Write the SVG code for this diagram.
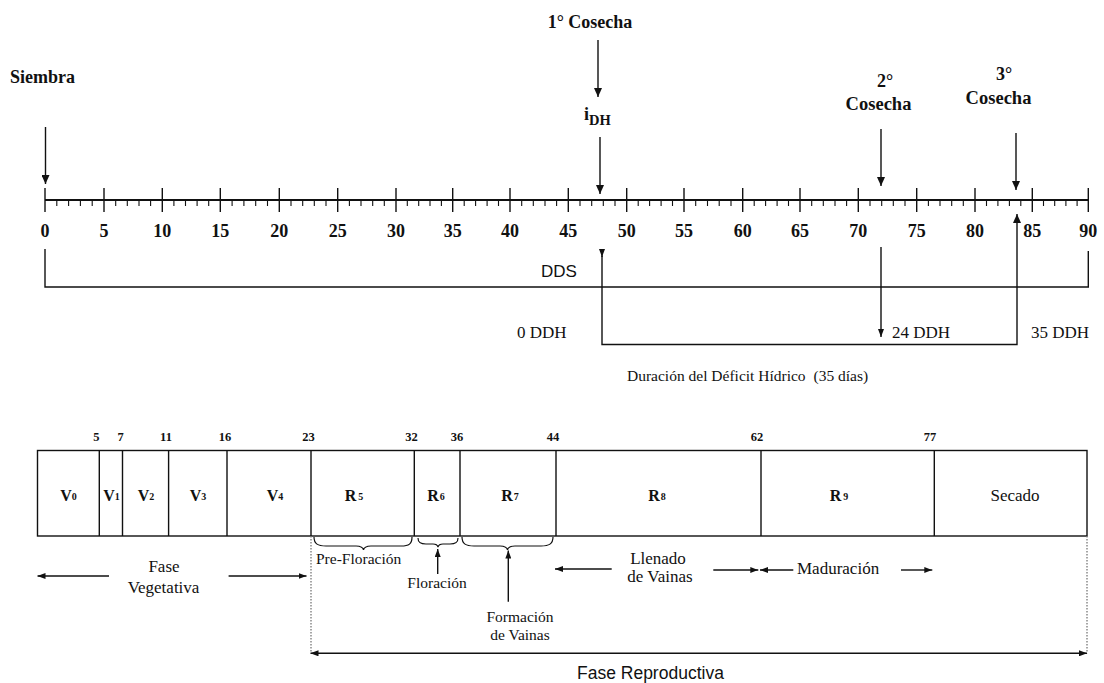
<svg xmlns="http://www.w3.org/2000/svg" width="1104" height="683" viewBox="0 0 1104 683">
<style>
.s{font-family:"Liberation Serif","Times New Roman",serif;fill:#111}
.b{font-weight:bold}
.a{font-family:"Liberation Sans",Arial,sans-serif;fill:#111}
.ln{stroke:#111;stroke-width:1.4;fill:none}
.dot{stroke:#777;stroke-width:1.3;fill:none;stroke-dasharray:1.5,1.5}
.num{font-family:"Liberation Serif","Times New Roman",serif;font-weight:bold;font-size:18px;fill:#111;text-anchor:middle}
.bn{font-family:"Liberation Serif","Times New Roman",serif;font-weight:bold;font-size:12.5px;fill:#111;text-anchor:middle}
.bl{font-family:"Liberation Serif","Times New Roman",serif;font-weight:bold;font-size:16px;fill:#111;text-anchor:middle}
.sm{font-size:10px}
.m{text-anchor:middle}
</style>
<defs>
<marker id="ah" markerUnits="userSpaceOnUse" markerWidth="9" markerHeight="8" viewBox="0 0 9 8" refX="9" refY="4" orient="auto">
<path d="M0,0 L9,4 L0,8 z" fill="#111"/>
</marker>
<marker id="as" markerUnits="userSpaceOnUse" markerWidth="8" markerHeight="6" viewBox="0 0 8 6" refX="8" refY="3" orient="auto-start-reverse">
<path d="M0,0 L8,3 L0,6 z" fill="#111"/>
</marker>
</defs>
<rect width="1104" height="683" fill="#fff"/>

<g id="axis">
<path class="ln" style="stroke-width:1.8" d="M45,200 H1088.3"/>
<path class="ln" style="stroke-width:1.4" d="M45,188 V212 M104,188 V212 M162.3,188 V212 M220.3,188 V212 M279.3,188 V212 M337.7,188 V212 M396,188 V212 M452.7,188 V212 M510,188 V212 M568.3,188 V212 M626.7,188 V212 M684,188 V212 M742.7,188 V212 M800,188 V212 M858.3,188 V212 M916.7,188 V212 M975,188 V212 M1032.3,188 V212 M1088.3,188 V212"/>
<path class="ln" style="stroke-width:1.1" d="M56.8,200V206M68.6,200V206M80.4,200V206M92.2,200V206M115.7,200V206M127.3,200V206M139,200V206M150.6,200V206M173.9,200V206M185.5,200V206M197.1,200V206M208.7,200V206M232.1,200V206M243.9,200V206M255.7,200V206M267.5,200V206M291,200V206M302.7,200V206M314.3,200V206M326,200V206M349.4,200V206M361,200V206M372.7,200V206M384.3,200V206M407.3,200V206M418.7,200V206M430,200V206M441.4,200V206M464.2,200V206M475.6,200V206M487.1,200V206M498.5,200V206M521.7,200V206M533.3,200V206M545,200V206M556.6,200V206M580,200V206M591.7,200V206M603.3,200V206M615,200V206M638.2,200V206M649.6,200V206M661.1,200V206M672.5,200V206M695.7,200V206M707.5,200V206M719.2,200V206M731,200V206M754.2,200V206M765.6,200V206M777.1,200V206M788.5,200V206M811.7,200V206M823.3,200V206M835,200V206M846.6,200V206M870,200V206M881.7,200V206M893.3,200V206M905,200V206M928.4,200V206M940,200V206M951.7,200V206M963.3,200V206M986.5,200V206M997.9,200V206M1009.4,200V206M1020.8,200V206M1043.5,200V206M1054.7,200V206M1065.9,200V206M1077.1,200V206"/>
<text class="num" x="45" y="237">0</text>
<text class="num" x="104" y="237">5</text>
<text class="num" x="162.3" y="237">10</text>
<text class="num" x="220.3" y="237">15</text>
<text class="num" x="279.3" y="237">20</text>
<text class="num" x="337.7" y="237">25</text>
<text class="num" x="396" y="237">30</text>
<text class="num" x="452.7" y="237">35</text>
<text class="num" x="510" y="237">40</text>
<text class="num" x="568.3" y="237">45</text>
<text class="num" x="626.7" y="237">50</text>
<text class="num" x="684" y="237">55</text>
<text class="num" x="742.7" y="237">60</text>
<text class="num" x="800" y="237">65</text>
<text class="num" x="858.3" y="237">70</text>
<text class="num" x="916.7" y="237">75</text>
<text class="num" x="975" y="237">80</text>
<text class="num" x="1032.3" y="237">85</text>
<text class="num" x="1088.3" y="237">90</text>
</g>

<g id="siembra"><text class="s b" x="10" y="83" font-size="18">Siembra</text></g>
<g id="cosecha1"><text class="s b m" x="590" y="28" font-size="18">1° Cosecha</text></g>
<g id="idh"><text class="s b" x="584" y="120" font-size="18">i<tspan font-size="14.5" dy="5">DH</tspan></text></g>
<g id="cosecha2"><text class="s b m" x="885" y="87" font-size="18">2°</text><text class="s b m" x="878.5" y="109.5" font-size="18.5">Cosecha</text></g>
<g id="cosecha3"><text class="s b m" x="1004" y="80" font-size="18">3°</text><text class="s b m" x="998.5" y="104" font-size="18.5">Cosecha</text></g>

<g id="dds"><text class="a" x="541" y="277" font-size="17">DDS</text></g>
<g id="ddh0"><text class="s" x="517" y="338" font-size="17">0 DDH</text></g>
<g id="ddh24"><text class="s" x="892" y="338" font-size="17">24 DDH</text></g>
<g id="ddh35"><text class="s" x="1031" y="338" font-size="17">35 DDH</text></g>
<g id="duracion"><text class="s" x="627" y="381" font-size="15.5">Duración del Déficit Hídrico <tspan dx="4">(35 días)</tspan></text></g>

<g id="stages">
<rect class="ln" x="37.5" y="450.5" width="1049.5" height="85.5"/>
<path class="ln" d="M99.3,450.5V536M122.5,450.5V536M168.6,450.5V536M227,450.5V536M311,450.5V536M414.3,450.5V536M460,450.5V536M556,450.5V536M761,450.5V536M934.3,450.5V536"/>
<text class="bn" x="96.4" y="441">5</text>
<text class="bn" x="120.5" y="441">7</text>
<text class="bn" x="166" y="441">11</text>
<text class="bn" x="225" y="441">16</text>
<text class="bn" x="308.5" y="441">23</text>
<text class="bn" x="411.5" y="441">32</text>
<text class="bn" x="457" y="441">36</text>
<text class="bn" x="553" y="441">44</text>
<text class="bn" x="757" y="441">62</text>
<text class="bn" x="930" y="441">77</text>
</g>
<g id="v0"><text class="bl" x="68.5" y="501">V<tspan class="sm" dy="-1">0</tspan></text></g>
<g id="v1"><text class="bl" x="111.5" y="501">V<tspan class="sm" dy="-1">1</tspan></text></g>
<g id="v2"><text class="bl" x="146" y="501">V<tspan class="sm" dy="-1">2</tspan></text></g>
<g id="v3"><text class="bl" x="198" y="501">V<tspan class="sm" dy="-1">3</tspan></text></g>
<g id="v4"><text class="bl" x="275" y="501">V<tspan class="sm" dy="-1">4</tspan></text></g>
<g id="r5"><text class="bl" x="354" y="501">R<tspan class="sm" dy="-1" dx="2">5</tspan></text></g>
<g id="r6"><text class="bl" x="436" y="501">R<tspan class="sm" dy="-1" dx="1">6</tspan></text></g>
<g id="r7"><text class="bl" x="510" y="501">R<tspan class="sm" dy="-1" dx="1">7</tspan></text></g>
<g id="r8"><text class="bl" x="657" y="501">R<tspan class="sm" dy="-1" dx="1">8</tspan></text></g>
<g id="r9"><text class="bl" x="839" y="501">R<tspan class="sm" dy="-1" dx="2">9</tspan></text></g>
<g id="secado"><text class="s m" x="1015" y="501" font-size="17">Secado</text></g>

<g id="braces">
<path class="ln" style="stroke-width:1.2" d="M314,537 C314,544 318,546 326,546 L356,546 C360,546 363,547 363.5,550 C364,547 367,546 371,546 L401,546 C409,546 412,544 412,537"/>
<path class="ln" style="stroke-width:1.2" d="M418,538 C418,543 421,544 426,544 L433,544 C436,544 437.5,545 438,547 C438.5,545 440,544 443,544 L450,544 C455,544 458,543 458,538"/>
<path class="ln" style="stroke-width:1.2" d="M462,537 C462,544 466,546 474,546 L500,546 C504,546 507,547 507.5,550 C508,547 511,546 515,546 L541,546 C549,546 553,544 553,537"/>
</g>

<g id="prefloracion"><text class="s" x="316" y="564" font-size="15.5">Pre-Floración</text></g>
<g id="floracion"><text class="s m" x="437" y="588" font-size="15.5">Floración</text></g>
<g id="formacion"><text class="s m" x="520" y="622" font-size="15.5">Formación</text><text class="s m" x="520" y="640" font-size="15.5">de Vainas</text></g>
<g id="fasevegetativa"><text class="s m" x="164" y="572" font-size="17">Fase</text><text class="s m" x="163.5" y="593" font-size="17">Vegetativa</text></g>
<g id="llenado"><text class="s m" x="658" y="563.5" font-size="17">Llenado</text><text class="s m" x="660" y="582" font-size="17">de Vainas</text></g>
<g id="maduracion"><text class="s" x="797" y="574" font-size="17">Maduración</text></g>
<g id="fasereproductiva"><text class="a" x="577" y="679" font-size="17.5">Fase Reproductiva</text></g>

<g id="connectors">
<path class="ln" marker-end="url(#ah)" d="M45.5,127 V184"/>
<path class="ln" marker-end="url(#ah)" d="M598,40 V97"/>
<path class="ln" marker-end="url(#ah)" d="M600,137 V194"/>
<path class="ln" marker-end="url(#ah)" d="M881,129 V186"/>
<path class="ln" marker-end="url(#ah)" d="M1016,133 V190"/>
<path class="ln" d="M45,249 V287 H1088.3 V251"/>
<path class="ln" marker-end="url(#as)" d="M602,249 V257"/>
<path class="ln" marker-end="url(#ah)" d="M602,256 V344.5 H1017 V214"/>
<path class="ln" marker-end="url(#as)" d="M881,247 V337"/>
<path class="ln" marker-end="url(#as)" d="M109,576 H37.5"/>
<path class="ln" marker-end="url(#as)" d="M228.6,576 H306.5"/>
<path class="ln" marker-end="url(#as)" d="M437.7,574 V549"/>
<path class="ln" marker-end="url(#as)" d="M508.3,601.7 V550.5"/>
<path class="ln" marker-end="url(#as)" d="M611.7,569 H555"/>
<path class="ln" marker-end="url(#as)" d="M713.3,570 H758.3"/>
<path class="ln" marker-end="url(#as)" d="M793.3,570 H760"/>
<path class="ln" marker-end="url(#as)" d="M901,570 H932.3"/>
<path class="dot" d="M311,536 V653.3 M1087,536 V653.3"/>
<path class="ln" marker-start="url(#as)" marker-end="url(#as)" d="M310.5,653.3 H1087"/>
</g>
</svg>
